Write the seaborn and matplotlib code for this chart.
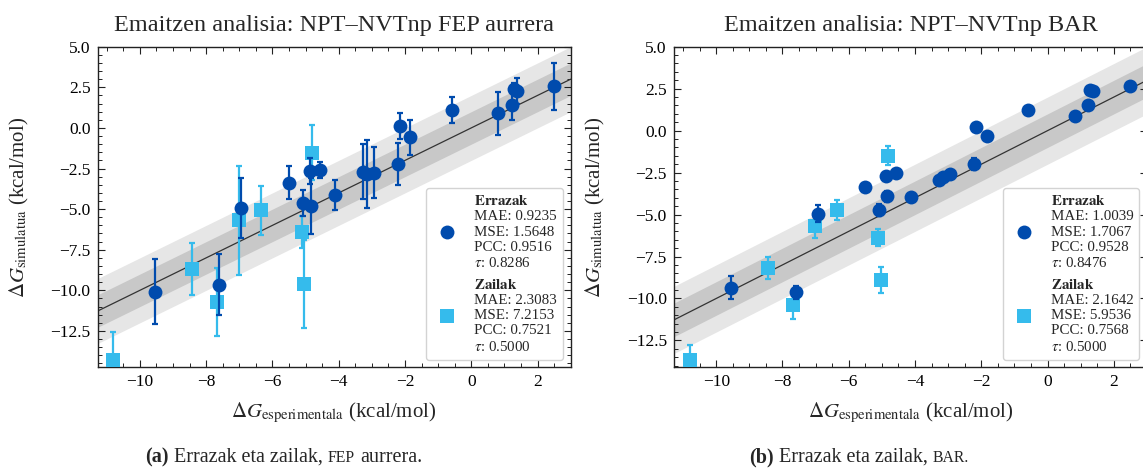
import numpy as np
import pandas as pd
import matplotlib
matplotlib.use("Agg")
import matplotlib.pyplot as plt
import seaborn as sns
from matplotlib.lines import Line2D
from matplotlib.ticker import MultipleLocator, FuncFormatter

# ---------------- data ----------------
exp_errazak = [-9.54, -7.60, -6.94, -5.50, -5.08, -4.85, -4.88, -4.56, -4.11, -3.28, -3.15,
               -2.93, -2.22, -2.15, -1.84, -0.58, 0.82, 1.22, 1.28, 1.38, 2.50]
exp_zailak = [-10.80, -8.43, -7.68, -7.02, -6.36, -5.12, -5.04, -4.81]

fep_errazak = [-10.10, -9.65, -4.91, -3.37, -4.65, -4.81, -2.65, -2.61, -4.13, -2.69, -2.86,
               -2.75, -2.24, 0.12, -0.59, 1.11, 0.89, 1.42, 2.39, 2.25, 2.55]
fep_errazak_err = [2.0, 1.9, 1.85, 1.0, 0.8, 1.7, 0.8, 0.5, 0.9, 1.7, 2.1,
                   1.55, 1.3, 0.8, 1.1, 0.8, 1.3, 0.95, 0.4, 0.8, 1.45]
fep_zailak = [-14.28, -8.68, -10.72, -5.70, -5.08, -6.42, -9.60, -1.52]
fep_zailak_err = [1.7, 1.62, 2.1, 3.36, 1.5, 1.0, 2.7, 1.67]

bar_errazak = [-9.36, -9.64, -4.96, -3.33, -4.72, -3.92, -2.69, -2.53, -3.98, -2.97, -2.79,
               -2.59, -1.97, 0.22, -0.34, 1.25, 0.86, 1.55, 2.45, 2.35, 2.65]
bar_errazak_err = [0.7, 0.4, 0.5, 0.2, 0.35, 0.35, 0.25, 0.2, 0.15, 0.2, 0.2,
                   0.2, 0.35, 0.15, 0.15, 0.15, 0.15, 0.15, 0.15, 0.15, 0.15]
bar_zailak = [-13.68, -8.17, -10.39, -5.67, -4.72, -6.37, -8.90, -1.49]
bar_zailak_err = [0.9, 0.65, 0.85, 0.7, 0.6, 0.5, 0.78, 0.55]

metric_names = ["MAE", "MSE", "PCC", "$\\tau$"]
fep_stats_errazak = ["0.9235", "1.5648", "0.9516", "0.8286"]
fep_stats_zailak = ["2.3083", "7.2153", "0.7521", "0.5000"]
bar_stats_errazak = ["1.0039", "1.7067", "0.9528", "0.8476"]
bar_stats_zailak = ["2.1642", "5.9536", "0.7568", "0.5000"]

titles = ["Emaitzen analisia: NPT\u2013NVTnp FEP aurrera", "Emaitzen analisia: NPT\u2013NVTnp BAR"]
group_names = ["Errazak", "Zailak"]

# ---------------- style ----------------
sns.set_theme(style="ticks")
plt.rcParams["font.family"] = ["Liberation Serif", "DejaVu Serif"]
plt.rcParams["mathtext.fontset"] = "stix"
plt.rcParams.update({
    "xtick.direction": "in", "ytick.direction": "in",
    "xtick.top": True, "ytick.right": True,
    "xtick.major.size": 5, "ytick.major.size": 5,
    "xtick.minor.size": 2.6, "ytick.minor.size": 2.6,
    "xtick.major.width": 0.8, "ytick.major.width": 0.8,
    "xtick.minor.width": 0.7, "ytick.minor.width": 0.7,
    "xtick.major.pad": 5, "ytick.major.pad": 5,
    "axes.linewidth": 1.0, "axes.edgecolor": "#222222",
    "xtick.color": "#222222", "ytick.color": "#222222",
    "xtick.labelsize": 12.5, "ytick.labelsize": 12.5,
    "xtick.labelcolor": "black", "ytick.labelcolor": "black",
})

C_DARK = "#004BAD"
C_LIGHT = "#35BBEC"
BAND_LIGHT = "#E6E6E6"
BAND_DARK = "#C8C8C8"

W, H = 1143, 471
fig = plt.figure(figsize=(W / 100, H / 100), dpi=100)
ax1 = fig.add_axes([97.5 / W, 103.7 / H, 473.2 / W, 320.6 / H])
ax2 = fig.add_axes([673.8 / W, 103.7 / H, 473.2 / W, 320.6 / H])

XLIM = (-11.28, 3.0)
ylims = [(-14.74, 5.0), (-14.1, 5.0)]

panels = [
    (ax1, fep_errazak, fep_errazak_err, fep_zailak, fep_zailak_err, fep_stats_errazak, fep_stats_zailak),
    (ax2, bar_errazak, bar_errazak_err, bar_zailak, bar_zailak_err, bar_stats_errazak, bar_stats_zailak),
]

fmt_x = FuncFormatter(lambda v, p: f"{v:.0f}".replace("-", "\u2212"))
fmt_y = FuncFormatter(lambda v, p: f"{v:.1f}".replace("-", "\u2212"))

for i, (ax, ye, ee, yz, ez, se, sz) in enumerate(panels):
    xs = np.array(XLIM)
    ax.fill_between(xs, xs - 2, xs + 2, color=BAND_LIGHT, lw=0, zorder=0)
    ax.fill_between(xs, xs - 1, xs + 1, color=BAND_DARK, lw=0, zorder=0.5)
    ax.plot(xs, xs, color="#333333", lw=0.9, zorder=1)

    # hard (Zailak) first
    ax.errorbar(exp_zailak, yz, yerr=ez, fmt="none", ecolor=C_LIGHT, elinewidth=1.6,
                capsize=2.5, capthick=1.6, zorder=3)
    dz = pd.DataFrame({"x": exp_zailak, "y": yz, "g": group_names[1]})
    sns.scatterplot(data=dz, x="x", y="y", color=C_LIGHT, marker="s", s=112,
                    linewidth=0, ax=ax, zorder=3.1, legend=False)
    ax.errorbar(exp_errazak, ye, yerr=ee, fmt="none", ecolor=C_DARK, elinewidth=1.6,
                capsize=2.5, capthick=1.6, zorder=3.2)
    de = pd.DataFrame({"x": exp_errazak, "y": ye, "g": group_names[0]})
    sns.scatterplot(data=de, x="x", y="y", color=C_DARK, marker="o", s=100,
                    linewidth=0, ax=ax, zorder=3.3, legend=False)

    ax.set_xlim(*XLIM)
    ax.set_ylim(*ylims[i])
    ax.xaxis.set_major_locator(MultipleLocator(2))
    ax.xaxis.set_minor_locator(MultipleLocator(0.5))
    ax.yaxis.set_major_locator(MultipleLocator(2.5))
    ax.yaxis.set_minor_locator(MultipleLocator(0.5))
    ax.xaxis.set_major_formatter(fmt_x)
    ax.yaxis.set_major_formatter(fmt_y)
    ax.tick_params(which="both", top=True, right=True)

    ax.set_title(titles[i], fontsize=17.5, pad=11)
    ax.set_xlabel("$\\Delta G_{\\mathrm{esperimentala}}$ (kcal/mol)", fontsize=15, labelpad=7.5)
    ax.set_ylabel("$\\Delta G_{\\mathrm{simulatua}}$ (kcal/mol)", fontsize=15, labelpad=14)

    lab_e = "$\\mathbf{" + group_names[0] + "}$\n" + "\n".join(f"{n}: {v}" for n, v in zip(metric_names, se))
    lab_z = "$\\mathbf{" + group_names[1] + "}$\n" + "\n".join(f"{n}: {v}" for n, v in zip(metric_names, sz))
    handles = [
        Line2D([], [], ls="none", marker="o", color=C_DARK, ms=10, mew=0),
        Line2D([], [], ls="none", marker="s", color=C_LIGHT, ms=10.5, mew=0),
    ]
    leg = ax.legend(handles, [lab_e, lab_z], loc="lower right", fontsize=10.8,
                    frameon=True, fancybox=True, framealpha=0.85, edgecolor="#CCCCCC")
    leg.set_zorder(10)
    for t in leg.get_texts():
        t.set_linespacing(1.22)

# ---------------- captions ----------------
renderer = fig.canvas.get_renderer()


def caption(xc_px, y_px, pieces, size):
    texts = []
    gap = 0.25 * size * 100 / 72
    for s, kw in pieces:
        t = fig.text(0, 1 - y_px / H, s, ha="left", va="baseline", fontsize=kw.get("fs", size),
                     fontweight=kw.get("fw", "normal"))
        texts.append(t)
    widths = [t.get_window_extent(renderer).width for t in texts]
    total = sum(widths) + gap * (len(texts) - 1)
    x = xc_px - total / 2
    for t, w in zip(texts, widths):
        t.set_x(x / W)
        x += w + gap


CAP = 14.5
caption(284, 462, [("(a)", {"fw": "bold"}), ("Errazak eta zailak,", {}),
                   ("FEP", {"fs": CAP * 0.78}), ("aurrera.", {})], CAP)
caption(859, 462, [("(b)", {"fw": "bold"}), ("Errazak eta zailak,", {}),
                   ("BAR.", {"fs": CAP * 0.78})], CAP)

fig.savefig("out.png", dpi=100)
